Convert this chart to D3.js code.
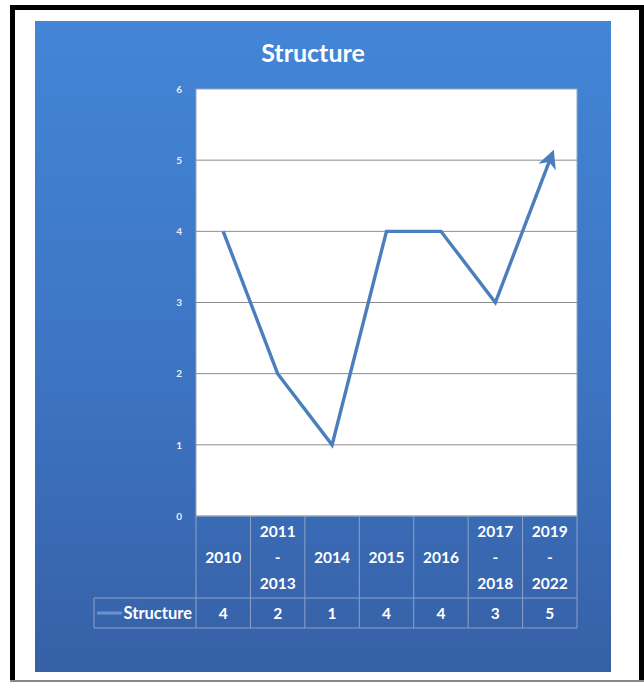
<!DOCTYPE html>
<html>
<head>
<meta charset="utf-8">
<script src="https://cdn.jsdelivr.net/npm/d3@7"></script>
<style>
  html, body { margin: 0; padding: 0; background: #fff; }
  svg { display: block; }
  text { font-family: Lato, "Open Sans", sans-serif; font-weight: bold; }
</style>
</head>
<body>
<svg id="chart" width="644" height="682"></svg>
<script>
// Categories (period labels, split into lines) and the series values
const periods = [["2010"], ["2011", "-", "2013"], ["2014"], ["2015"], ["2016"], ["2017", "-", "2018"], ["2019", "-", "2022"]];
const seriesName = "Structure";
const values = [4, 2, 1, 4, 4, 3, 5];
const yTicks = [0, 1, 2, 3, 4, 5, 6];

const svg = d3.select("#chart");

// outer frame
svg.append("rect").attr("x", 12.5).attr("y", 7.5).attr("width", 629).attr("height", 676)
  .attr("fill", "#fff").attr("stroke", "#000").attr("stroke-width", 5);
svg.append("line").attr("x1", 10).attr("x2", 644).attr("y1", 681).attr("y2", 681)
  .attr("stroke", "#888").attr("stroke-width", 2);

// blue gradient background
const defs = svg.append("defs");
const grad = defs.append("linearGradient").attr("id", "bg").attr("x1", 0).attr("y1", 0).attr("x2", 0).attr("y2", 1);
grad.append("stop").attr("offset", "0%").attr("stop-color", "#4385d7");
grad.append("stop").attr("offset", "55%").attr("stop-color", "#3d74c2");
grad.append("stop").attr("offset", "100%").attr("stop-color", "#3660a6");
svg.append("rect").attr("x", 35).attr("y", 21).attr("width", 576).attr("height", 651).attr("fill", "url(#bg)");

// title
svg.append("text").attr("x", 313).attr("y", 62).attr("text-anchor", "middle")
  .attr("fill", "#fff").attr("font-size", 25).text(seriesName);

// plot area
const plotL = 196, plotR = 577, plotT = 89, plotB = 516;
const x = d3.scaleBand().domain(d3.range(periods.length)).range([plotL, plotR]);
const y = d3.scaleLinear().domain([0, 6]).range([plotB, plotT]);

svg.append("rect").attr("x", plotL).attr("y", plotT).attr("width", plotR - plotL).attr("height", plotB - plotT)
  .attr("fill", "#fff").attr("stroke", "#9aa6b8").attr("stroke-width", 1);

// gridlines
svg.append("g").selectAll("line").data(yTicks.filter(d => d > 0 && d < 6)).join("line")
  .attr("x1", plotL).attr("x2", plotR).attr("y1", d => y(d)).attr("y2", d => y(d))
  .attr("stroke", "#8c8c8c").attr("stroke-width", 1);

// y axis labels
const yAxis = svg.append("g").attr("transform", `translate(${plotL},0)`)
  .call(d3.axisLeft(y).tickValues(yTicks).tickFormat(d3.format("d")).tickSize(0).tickPadding(14));
yAxis.select(".domain").remove();
yAxis.selectAll("text").attr("fill", "#e8eef8").attr("font-size", 10)
  .attr("font-family", "Lato, sans-serif").attr("font-weight", "bold");

// line with arrowhead
defs.append("marker").attr("id", "arrow").attr("viewBox", "0 0 10 10")
  .attr("refX", 4).attr("refY", 5).attr("markerWidth", 5.5).attr("markerHeight", 5.5)
  .attr("orient", "auto").attr("markerUnits", "strokeWidth")
  .append("path").attr("d", "M0,0 L10,5 L0,10 L3,5 Z").attr("fill", "#4a7ebd");

const cx = i => x(i) + x.bandwidth() / 2;
const line = d3.line().x((d, i) => cx(i)).y(d => y(d));
svg.append("path").datum(values).attr("d", line)
  .attr("fill", "none").attr("stroke", "#4a7ebd").attr("stroke-width", 3.4)
  .attr("stroke-linejoin", "miter").attr("marker-end", "url(#arrow)");

// data table
const rowTop = plotB, rowMid = 598, rowBot = 628, legendLeft = 94;
const tableStroke = "#8fa3c6";
const tg = svg.append("g");
// horizontal lines
tg.append("line").attr("x1", plotL).attr("x2", plotR).attr("y1", rowTop).attr("y2", rowTop).attr("stroke", tableStroke);
tg.append("line").attr("x1", legendLeft).attr("x2", plotR).attr("y1", rowMid).attr("y2", rowMid).attr("stroke", tableStroke);
tg.append("line").attr("x1", legendLeft).attr("x2", plotR).attr("y1", rowBot).attr("y2", rowBot).attr("stroke", tableStroke);
// vertical lines
const vx = d3.range(periods.length + 1).map(i => i < periods.length ? x(i) : plotR);
tg.selectAll("line.v").data(vx).join("line").attr("class", "v")
  .attr("x1", d => d).attr("x2", d => d).attr("y1", rowTop).attr("y2", rowBot).attr("stroke", tableStroke);
tg.append("line").attr("x1", legendLeft).attr("x2", legendLeft).attr("y1", rowMid).attr("y2", rowBot).attr("stroke", tableStroke);

// header labels
const lineH = 26;
periods.forEach((lines, i) => {
  const startY = 557 - (lines.length - 1) / 2 * lineH;
  lines.forEach((t, k) => {
    tg.append("text").attr("x", cx(i)).attr("y", startY + k * lineH).attr("dy", "0.38em")
      .attr("text-anchor", "middle").attr("fill", "#fff").attr("font-size", 15.5).text(t);
  });
});

// value row
tg.selectAll("text.val").data(values).join("text").attr("class", "val")
  .attr("x", (d, i) => cx(i)).attr("y", 613).attr("dy", "0.38em")
  .attr("text-anchor", "middle").attr("fill", "#fff").attr("font-size", 15.5).text(d => d);

// legend key
tg.append("line").attr("x1", 97).attr("x2", 122).attr("y1", 613).attr("y2", 613)
  .attr("stroke", "#6f92c9").attr("stroke-width", 3);
tg.append("text").attr("x", 192).attr("y", 613).attr("dy", "0.38em").attr("text-anchor", "end")
  .attr("fill", "#fff").attr("font-size", 16.5).text(seriesName);
</script>
</body>
</html>
